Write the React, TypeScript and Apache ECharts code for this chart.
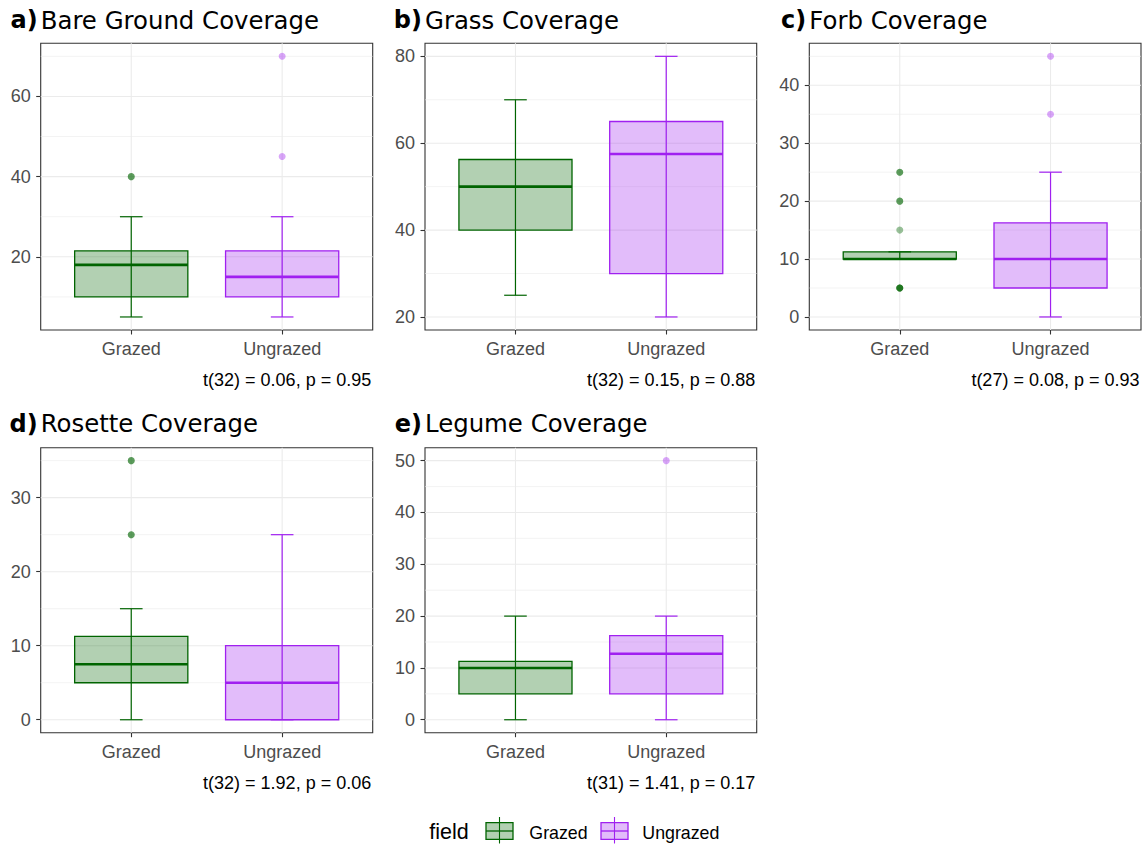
import React, { useEffect, useRef } from "react";
import * as echarts from "echarts";

// ---------- data ----------
const categories = ["Grazed", "Ungrazed"];
const panelTags = ["a)", "b)", "c)", "d)", "e)"];
const panelTitles = [
  "Bare Ground Coverage",
  "Grass Coverage",
  "Forb Coverage",
  "Rosette Coverage",
  "Legume Coverage",
];
const testLabels = [
  "t(32) = 0.06, p = 0.95",
  "t(32) = 0.15, p = 0.88",
  "t(27) = 0.08, p = 0.93",
  "t(32) = 1.92, p = 0.06",
  "t(31) = 1.41, p = 0.17",
];

// [lower whisker, Q1, median, Q3, upper whisker] for Grazed, Ungrazed
const bareGroundStats = [
  [5, 10, 18, 21.5, 30],
  [5, 10, 15, 21.5, 30],
];
const grassStats = [
  [25, 40, 50, 56.25, 70],
  [20, 30, 57.5, 65, 80],
];
const forbStats = [
  [10, 10, 10, 11.25, 11.25],
  [0, 5, 10, 16.25, 25],
];
const rosetteStats = [
  [0, 5, 7.5, 11.25, 15],
  [0, 0, 5, 10, 25],
];
const legumeStats = [
  [0, 5, 10, 11.25, 20],
  [0, 5, 12.75, 16.25, 20],
];

// outlying observations (repeated values overlap)
const bareGroundOutliers = [[40, 40], [45, 70]];
const grassOutliers = [[], []];
const forbOutliers = [[5, 5, 5, 5, 15, 20, 20, 25, 25], [35, 45]];
const rosetteOutliers = [[25, 25, 35, 35], []];
const legumeOutliers = [[], [50]];

// y tick labels
const bareGroundTicks = [20, 40, 60];
const grassTicks = [20, 40, 60, 80];
const forbTicks = [0, 10, 20, 30, 40];
const rosetteTicks = [0, 10, 20, 30];
const legumeTicks = [0, 10, 20, 30, 40, 50];

const allStats = [bareGroundStats, grassStats, forbStats, rosetteStats, legumeStats];
const allOutliers = [bareGroundOutliers, grassOutliers, forbOutliers, rosetteOutliers, legumeOutliers];
const allTicks = [bareGroundTicks, grassTicks, forbTicks, rosetteTicks, legumeTicks];

// ---------- style ----------
const FONT = "'Liberation Sans', Arial, sans-serif";
const TITLE_FONT = "'DejaVu Sans', sans-serif";
const lineColors = ["#006400", "#A020F0"];
const fillColors = ["rgba(0,100,0,0.3)", "rgba(160,32,240,0.3)"];

const panels = [
  { left: 40.7, top: 43.3, width: 332, height: 286.7 },
  { left: 425, top: 43.3, width: 331.7, height: 286.7 },
  { left: 809.3, top: 43.3, width: 331.7, height: 286.7 },
  { left: 40.7, top: 447.7, width: 332, height: 285 },
  { left: 425, top: 447.7, width: 331.7, height: 285 },
];

function yRange(stats: number[][], outs: number[][]) {
  const vals: number[] = [];
  stats.forEach((s) => vals.push(s[0], s[4]));
  outs.forEach((o) => o.forEach((v) => vals.push(v)));
  const lo = Math.min(...vals);
  const hi = Math.max(...vals);
  const pad = (hi - lo) * 0.05;
  return [lo - pad, hi + pad];
}

function minorBreaks(breaks: number[], lo: number, hi: number) {
  const step = breaks[1] - breaks[0];
  const res: number[] = [];
  for (let v = breaks[0] - step / 2; v <= breaks[breaks.length - 1] + step / 2 + 1e-9; v += step) {
    if (v >= lo && v <= hi) res.push(v);
  }
  return res;
}

function gridRender(params: any, api: any) {
  const cs = params.coordSys;
  const orient = api.value(2);
  const major = api.value(1) === 1;
  const style = { stroke: "#EBEBEB", lineWidth: major ? 1.1 : 0.6 };
  if (orient === 0) {
    const y = api.coord([1, api.value(0)])[1];
    return { type: "line", shape: { x1: cs.x, y1: y, x2: cs.x + cs.width, y2: y }, style };
  }
  const x = api.coord([api.value(0), 0])[0];
  return { type: "line", shape: { x1: x, y1: cs.y, x2: x, y2: cs.y + cs.height }, style };
}

function boxRender(params: any, api: any) {
  const x = api.value(0);
  const lo = api.value(1);
  const q1 = api.value(2);
  const med = api.value(3);
  const q3 = api.value(4);
  const hi = api.value(5);
  const ci = Math.round(x) - 1;
  const stroke = lineColors[ci];
  const half = 0.375;
  const cap = 0.075;
  const pLo = api.coord([x, lo]);
  const pHi = api.coord([x, hi]);
  const a = api.coord([x - half, q3]);
  const b = api.coord([x + half, q1]);
  const m1 = api.coord([x - half, med]);
  const m2 = api.coord([x + half, med]);
  const c1 = api.coord([x - cap, lo]);
  const c2 = api.coord([x + cap, lo]);
  const c3 = api.coord([x - cap, hi]);
  const c4 = api.coord([x + cap, hi]);
  return {
    type: "group",
    children: [
      { type: "line", shape: { x1: pLo[0], y1: pLo[1], x2: pHi[0], y2: pHi[1] }, style: { stroke, lineWidth: 1.2 } },
      { type: "line", shape: { x1: c1[0], y1: c1[1], x2: c2[0], y2: c2[1] }, style: { stroke, lineWidth: 1.2 } },
      { type: "line", shape: { x1: c3[0], y1: c3[1], x2: c4[0], y2: c4[1] }, style: { stroke, lineWidth: 1.2 } },
      {
        type: "rect",
        shape: { x: a[0], y: a[1], width: b[0] - a[0], height: b[1] - a[1] },
        style: { fill: fillColors[ci], stroke, lineWidth: 1.3 },
      },
      { type: "line", shape: { x1: m1[0], y1: m1[1], x2: m2[0], y2: m2[1] }, style: { stroke, lineWidth: 2.6 } },
    ],
  };
}

function buildOption() {
  const grid: any[] = [];
  const xAxis: any[] = [];
  const yAxis: any[] = [];
  const series: any[] = [];
  const graphic: any[] = [];

  panels.forEach((p, i) => {
    const [ymin, ymax] = yRange(allStats[i], allOutliers[i]);
    const ticks = allTicks[i];
    grid.push({
      left: p.left,
      top: p.top,
      width: p.width,
      height: p.height,
      show: true,
      borderColor: "#333333",
      borderWidth: 1.1,
      backgroundColor: "#ffffff",
    });
    xAxis.push({
      gridIndex: i,
      type: "value",
      position: "bottom",
      min: 0.4,
      max: 2.6,
      axisLine: { show: false, onZero: false },
      splitLine: { show: false },
      axisTick: { show: true, customValues: [1, 2], length: 4.5, lineStyle: { color: "#333333", width: 1.1 } },
      axisLabel: {
        customValues: [1, 2],
        formatter: (v: number) => categories[Math.round(v) - 1] || "",
        color: "#4D4D4D",
        fontSize: 18,
        fontFamily: FONT,
        margin: 10,
      },
    });
    yAxis.push({
      gridIndex: i,
      type: "value",
      position: "left",
      min: ymin,
      max: ymax,
      axisLine: { show: false, onZero: false },
      splitLine: { show: false },
      axisTick: { show: true, customValues: ticks, length: 4.5, lineStyle: { color: "#333333", width: 1.1 } },
      axisLabel: {
        customValues: ticks,
        color: "#4D4D4D",
        fontSize: 18,
        fontFamily: FONT,
        margin: 10,
      },
    });

    const gridData: number[][] = [];
    minorBreaks(ticks, ymin, ymax).forEach((v) => gridData.push([v, 0, 0]));
    ticks.forEach((v) => gridData.push([v, 1, 0]));
    [1, 2].forEach((v) => gridData.push([v, 1, 1]));
    series.push({
      type: "custom",
      xAxisIndex: i,
      yAxisIndex: i,
      z: 1,
      silent: true,
      renderItem: gridRender,
      data: gridData,
    });

    series.push({
      type: "custom",
      name: "box" + i,
      xAxisIndex: i,
      yAxisIndex: i,
      z: 2,
      renderItem: boxRender,
      encode: { x: 0, y: [1, 2, 3, 4, 5] },
      data: allStats[i].map((s, k) => [k + 1, ...s]),
    });

    allOutliers[i].forEach((outs, k) => {
      if (!outs.length) return;
      series.push({
        type: "scatter",
        xAxisIndex: i,
        yAxisIndex: i,
        z: 3,
        symbolSize: 7,
        itemStyle: { color: lineColors[k], opacity: 0.4 },
        data: outs.map((v) => [k + 1, v]),
      });
    });

    const titleY = i < 3 ? 20 : 423.5;
    graphic.push({
      type: "text",
      x: p.left - 3,
      y: titleY,
      style: {
        text: panelTags[i],
        fontFamily: TITLE_FONT,
        fontWeight: "bold",
        fontSize: 24,
        fill: "#000000",
        align: "right",
        textAlign: "right",
        verticalAlign: "middle",
        textVerticalAlign: "middle",
      },
    });
    graphic.push({
      type: "text",
      x: p.left,
      y: titleY,
      style: {
        text: panelTitles[i],
        fontFamily: TITLE_FONT,
        fontSize: 24.4,
        fill: "#000000",
        align: "left",
        textAlign: "left",
        verticalAlign: "middle",
        textVerticalAlign: "middle",
      },
    });
    graphic.push({
      type: "text",
      x: p.left + p.width - 1.5,
      y: p.top + p.height + 50,
      style: {
        text: testLabels[i],
        fontFamily: FONT,
        fontSize: 18,
        fill: "#000000",
        align: "right",
        textAlign: "right",
        verticalAlign: "middle",
        textVerticalAlign: "middle",
      },
    });
  });

  // legend
  const legY = 832;
  graphic.push({
    type: "text",
    x: 429.3,
    y: legY,
    style: {
      text: "field",
      fontFamily: FONT,
      fontSize: 21.5,
      fill: "#000000",
      align: "left",
      textAlign: "left",
      verticalAlign: "middle",
      textVerticalAlign: "middle",
    },
  });
  const keyX = [486, 601];
  const textX = [529.3, 642.3];
  categories.forEach((c, k) => {
    const x0 = keyX[k];
    const w = 27;
    const cx = x0 + w / 2;
    graphic.push({
      type: "line",
      shape: { x1: cx, y1: legY - 15, x2: cx, y2: legY + 11.5 },
      style: { stroke: lineColors[k], lineWidth: 1.1 },
    });
    graphic.push({
      type: "rect",
      shape: { x: x0, y: legY - 9.3, width: w, height: 16.6 },
      style: { fill: fillColors[k], stroke: lineColors[k], lineWidth: 1.3 },
    });
    graphic.push({
      type: "line",
      shape: { x1: x0, y1: legY - 1, x2: x0 + w, y2: legY - 1 },
      style: { stroke: lineColors[k], lineWidth: 1.3 },
    });
    graphic.push({
      type: "text",
      x: textX[k],
      y: legY + 1,
      style: {
        text: c,
        fontFamily: FONT,
        fontSize: 17.8,
        fill: "#000000",
        align: "left",
        textAlign: "left",
        verticalAlign: "middle",
        textVerticalAlign: "middle",
      },
    });
  });

  return {
    animation: false,
    backgroundColor: "#ffffff",
    grid,
    xAxis,
    yAxis,
    series,
    graphic,
  };
}

export default function App() {
  const ref = useRef<HTMLDivElement>(null);
  useEffect(() => {
    if (!ref.current) return;
    const chart = echarts.init(ref.current, undefined, { renderer: "svg" });
    chart.setOption(buildOption() as any);
    return () => chart.dispose();
  }, []);
  return (
    <div
      ref={ref}
      style={{ position: "fixed", left: 0, top: 0, width: 1145, height: 845, background: "#ffffff" }}
    />
  );
}
